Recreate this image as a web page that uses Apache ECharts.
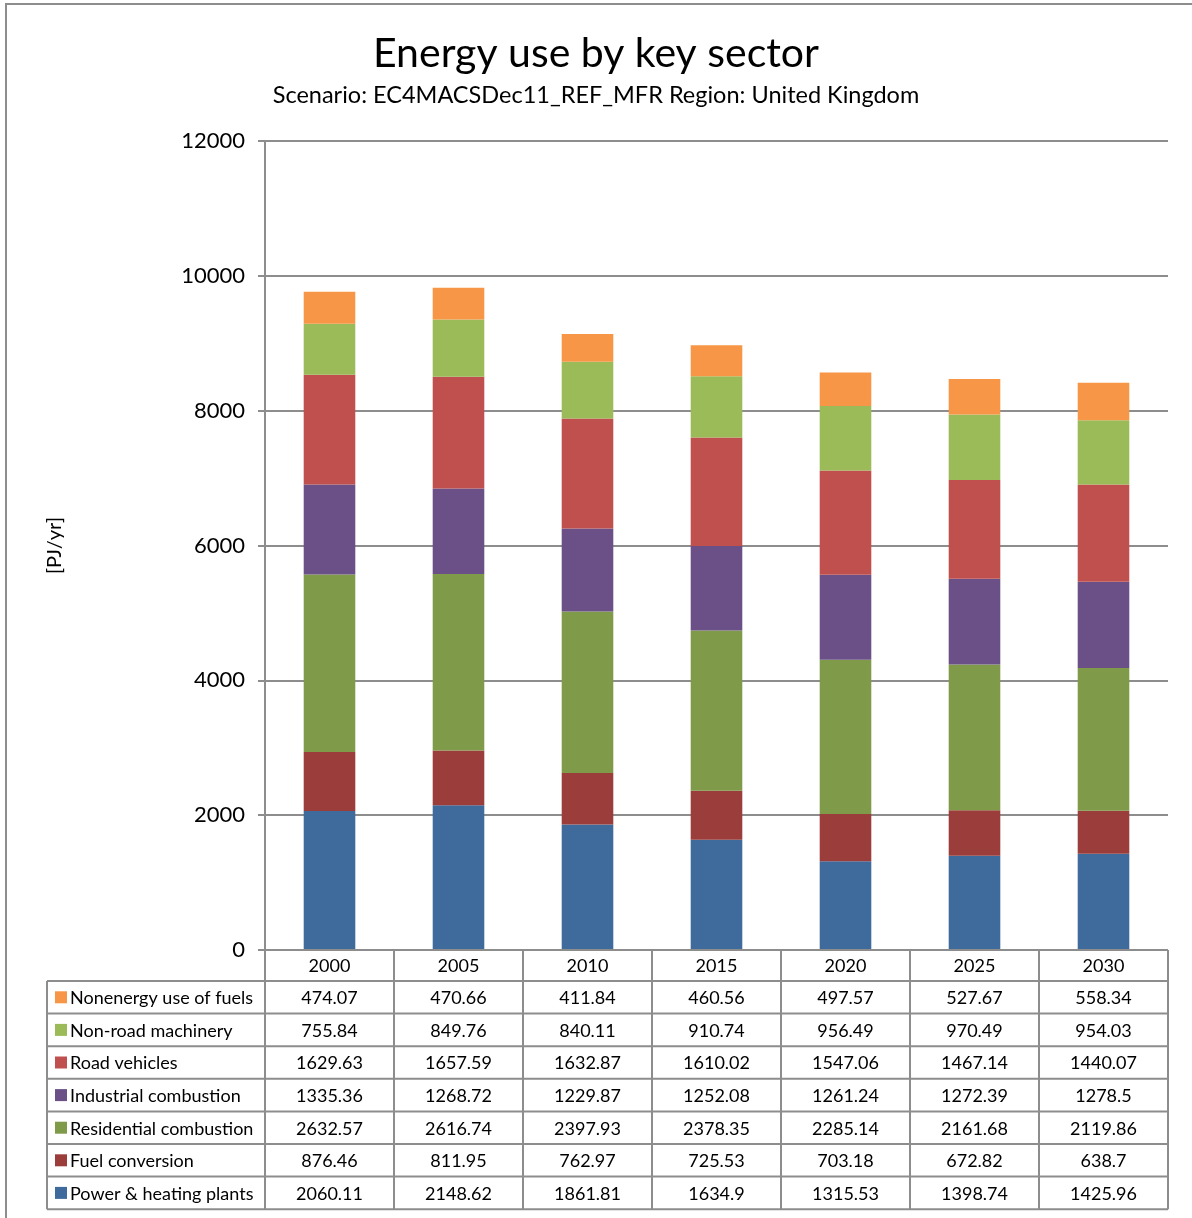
<!DOCTYPE html>
<html>
<head>
<meta charset="utf-8">
<script src="https://cdn.jsdelivr.net/npm/echarts@6/dist/echarts.min.js"></script>
<style>
  html, body { margin: 0; padding: 0; background: #fff; }
  #chart { width: 1192px; height: 1218px; }
</style>
</head>
<body>
<div id="chart"></div>
<script>
// chart data
const years = ['2000', '2005', '2010', '2015', '2020', '2025', '2030']
const yTicks = [0, 2000, 4000, 6000, 8000, 10000, 12000]

const powerHeating = [2060.11, 2148.62, 1861.81, 1634.9, 1315.53, 1398.74, 1425.96]
const fuelConversion = [876.46, 811.95, 762.97, 725.53, 703.18, 672.82, 638.7]
const residential = [2632.57, 2616.74, 2397.93, 2378.35, 2285.14, 2161.68, 2119.86]
const industrial = [1335.36, 1268.72, 1229.87, 1252.08, 1261.24, 1272.39, 1278.5]
const roadVehicles = [1629.63, 1657.59, 1632.87, 1610.02, 1547.06, 1467.14, 1440.07]
const nonRoad = [755.84, 849.76, 840.11, 910.74, 956.49, 970.49, 954.03]
const nonenergy = [474.07, 470.66, 411.84, 460.56, 497.57, 527.67, 558.34]

// stacking order, bottom first
const sectors = [
  { name: 'Power & heating plants', data: powerHeating, color: '#3F6A9C' },
  { name: 'Fuel conversion', data: fuelConversion, color: '#9B3E3B' },
  { name: 'Residential combustion', data: residential, color: '#7F9A48' },
  { name: 'Industrial combustion', data: industrial, color: '#6A5087' },
  { name: 'Road vehicles', data: roadVehicles, color: '#C0504D' },
  { name: 'Non-road machinery', data: nonRoad, color: '#9BBB59' },
  { name: 'Nonenergy use of fuels', data: nonenergy, color: '#F79646' }
]

const font = 'Lato, "Noto Sans", sans-serif'
const lineColor = '#8D8D8D'
const gridLeft = 265, gridRight = 1168, gridTop = 141, gridBottom = 950

const chart = echarts.init(document.getElementById('chart'), null, { renderer: 'canvas' })

chart.setOption({
  animation: false,
  backgroundColor: '#fff',
  textStyle: { fontFamily: font },
  title: {
    text: 'Energy use by key sector',
    subtext: 'Scenario: EC4MACSDec11_REF_MFR Region: United Kingdom',
    left: 'center',
    top: 28,
    itemGap: 9,
    textStyle: { fontFamily: font, fontSize: 41, fontWeight: 'normal', color: '#000' },
    subtextStyle: { fontFamily: font, fontSize: 23.5, color: '#000' }
  },
  grid: {
    left: gridLeft,
    right: 1192 - gridRight,
    top: gridTop,
    bottom: 1218 - gridBottom,
    containLabel: false
  },
  xAxis: {
    type: 'category',
    data: years,
    axisLine: { show: false },
    axisTick: { show: false },
    axisLabel: { show: false }
  },
  yAxis: {
    type: 'value',
    min: yTicks[0],
    max: yTicks[yTicks.length - 1],
    interval: 2000,
    name: '[PJ/yr]',
    nameLocation: 'middle',
    nameRotate: 90,
    nameGap: 200,
    nameTextStyle: { fontFamily: font, fontSize: 20, color: '#000' },
    axisLine: { show: true, lineStyle: { color: lineColor, width: 2 } },
    axisTick: { show: true, length: 7, lineStyle: { color: lineColor, width: 2 } },
    axisLabel: {
      fontFamily: font, fontSize: 22, color: '#000', margin: 20,
      formatter: v => String(v)
    },
    splitLine: { lineStyle: { color: lineColor, width: 2 } }
  },
  series: sectors.map(s => ({
    name: s.name,
    type: 'bar',
    stack: 'total',
    barWidth: '40%',
    data: s.data,
    itemStyle: { color: s.color },
    z: 2
  }))
})

// data table under the plot, columns taken from the category axis
const colW = (gridRight - gridLeft) / years.length
const headerTop = gridBottom
const headerH = 31
const rowH = 32.6
const tableLeft = 47
const rowsTopDown = sectors.slice().reverse()
const tableBottom = headerTop + headerH + rowH * rowsTopDown.length
const graphics = []

const addLine = (x1, y1, x2, y2) => graphics.push({
  type: 'line',
  shape: { x1, y1, x2, y2 },
  style: { stroke: lineColor, lineWidth: 2 },
  z: 10
})

// outer chart-area border
graphics.push({
  type: 'rect',
  shape: { x: 6, y: 4, width: 1200, height: 1230 },
  style: { fill: null, stroke: lineColor, lineWidth: 2 },
  z: 0
})

addLine(gridLeft, headerTop, gridRight, headerTop)
for (let r = 0; r <= rowsTopDown.length; r++) {
  const y = headerTop + headerH + r * rowH
  addLine(tableLeft, y, gridRight, y)
}
addLine(tableLeft, headerTop + headerH, tableLeft, tableBottom)
for (let c = 0; c <= years.length; c++) {
  const x = gridLeft + c * colW
  addLine(x, headerTop, x, tableBottom)
}

years.forEach((yr, i) => {
  const cx = chart.convertToPixel({ xAxisIndex: 0 }, yr)
  graphics.push({
    type: 'text',
    x: cx, y: headerTop + headerH / 2 + 1,
    style: { text: yr, fontFamily: font, fontSize: 18, fill: '#000', align: 'center', verticalAlign: 'middle' },
    z: 11
  })
  rowsTopDown.forEach((s, r) => {
    graphics.push({
      type: 'text',
      x: cx, y: headerTop + headerH + r * rowH + rowH / 2 + 1,
      style: { text: String(s.data[i]), fontFamily: font, fontSize: 18, fill: '#000', align: 'center', verticalAlign: 'middle' },
      z: 11
    })
  })
})

rowsTopDown.forEach((s, r) => {
  const cy = headerTop + headerH + r * rowH + rowH / 2
  graphics.push({
    type: 'rect',
    shape: { x: 55, y: cy - 6, width: 12, height: 12 },
    style: { fill: s.color },
    z: 11
  })
  graphics.push({
    type: 'text',
    x: 70, y: cy + 1,
    style: { text: s.name, fontFamily: font, fontSize: 18, fill: '#000', align: 'left', verticalAlign: 'middle' },
    z: 11
  })
})

chart.setOption({ graphic: graphics })
</script>
</body>
</html>
